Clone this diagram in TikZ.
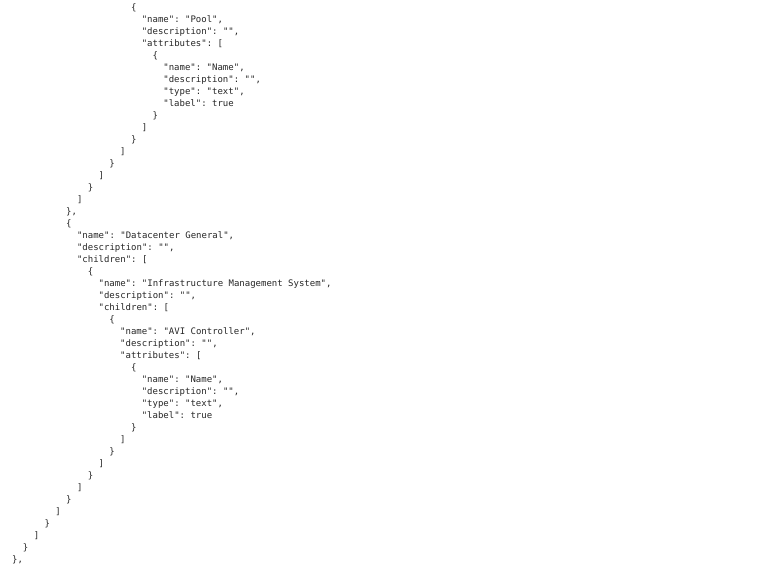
\documentclass[tikz,border=0pt]{standalone}
\usepackage{fontspec}
\setmonofont{DejaVu Sans Mono}
\tikzset{code/.style={anchor=base west,inner sep=0pt,font=\ttfamily\fontsize{9}{12}\selectfont,text=black!85}}
\newcommand{\cl}[3]{\node[code] (l#1) at ({12+5.4*#2},{#1*12+10.5}) {#3};}
\begin{document}
\begin{tikzpicture}[x=1pt,y=-1pt]
\useasboundingbox (0,0) rectangle (769,568);
\cl{0}{22}{\{}
\cl{1}{24}{"name": "Pool",}
\cl{2}{24}{"description": "",}
\cl{3}{24}{"attributes": [}
\cl{4}{26}{\{}
\cl{5}{28}{"name": "Name",}
\cl{6}{28}{"description": "",}
\cl{7}{28}{"type": "text",}
\cl{8}{28}{"label": true}
\cl{9}{26}{\}}
\cl{10}{24}{]}
\cl{11}{22}{\}}
\cl{12}{20}{]}
\cl{13}{18}{\}}
\cl{14}{16}{]}
\cl{15}{14}{\}}
\cl{16}{12}{]}
\cl{17}{10}{\},}
\cl{18}{10}{\{}
\cl{19}{12}{"name": "Datacenter General",}
\cl{20}{12}{"description": "",}
\cl{21}{12}{"children": [}
\cl{22}{14}{\{}
\cl{23}{16}{"name": "Infrastructure Management System",}
\cl{24}{16}{"description": "",}
\cl{25}{16}{"children": [}
\cl{26}{18}{\{}
\cl{27}{20}{"name": "AVI Controller",}
\cl{28}{20}{"description": "",}
\cl{29}{20}{"attributes": [}
\cl{30}{22}{\{}
\cl{31}{24}{"name": "Name",}
\cl{32}{24}{"description": "",}
\cl{33}{24}{"type": "text",}
\cl{34}{24}{"label": true}
\cl{35}{22}{\}}
\cl{36}{20}{]}
\cl{37}{18}{\}}
\cl{38}{16}{]}
\cl{39}{14}{\}}
\cl{40}{12}{]}
\cl{41}{10}{\}}
\cl{42}{8}{]}
\cl{43}{6}{\}}
\cl{44}{4}{]}
\cl{45}{2}{\}}
\cl{46}{0}{\},}
\end{tikzpicture}
\end{document}
